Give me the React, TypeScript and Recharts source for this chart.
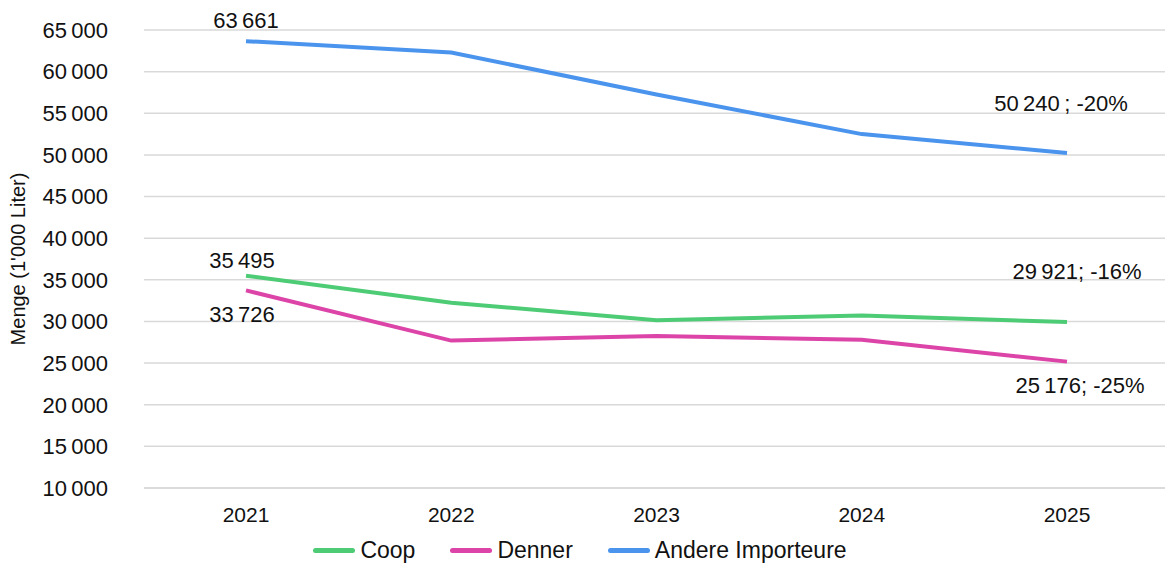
import React from "react";
import { LineChart, Line, XAxis, YAxis, CartesianGrid, LabelList } from "recharts";

const years = ["2021", "2022", "2023", "2024", "2025"];
const coop = [35495, 32250, 30150, 30700, 29921];
const denner = [33726, 27700, 28250, 27800, 25176];
const andere = [63661, 62300, 57250, 52500, 50240];

const coopLabels = ["35\u2009495", "", "", "", "29\u2009921; -16%"];
const dennerLabels = ["33\u2009726", "", "", "", "25\u2009176; -25%"];
const andereLabels = ["63\u2009661", "", "", "", "50\u2009240\u2009; -20%"];

const yTicks = [10000, 15000, 20000, 25000, 30000, 35000, 40000, 45000, 50000, 55000, 60000, 65000];

const seriesNames = { coop: "Coop", denner: "Denner", andere: "Andere Importeure" };
const colors = { coop: "#4ECB75", denner: "#DC44A8", andere: "#4A94EE" };

const data = years.map((y, i) => ({ year: y, coop: coop[i], denner: denner[i], andere: andere[i] }));

const FONT = "'Liberation Sans', Arial, sans-serif";
const fmt = (v: number) => String(v).replace(/\B(?=(\d{3})+(?!\d))/g, "\u2009");

// label offsets (style only): [dx, dy] for first and last point
const labelOffsets: Record<string, [number, number][]> = {
  coop: [[-4, -15], [10, -51]],
  denner: [[-4, 24], [13, 24]],
  andere: [[0, -21], [-6, -49]],
};

const makeLabel = (key: string, labels: string[]) => (props: any) => {
  const { x, y, index } = props;
  const text = labels[index];
  if (!text) return null;
  const off = labelOffsets[key][index === 0 ? 0 : 1];
  return (
    <text
      x={x + off[0]}
      y={y + off[1]}
      textAnchor="middle"
      dominantBaseline="central"
      fontFamily={FONT}
      fontSize={22}
      fill="#111"
    >
      {text}
    </text>
  );
};

const LegendBox = () => (
  <div
    style={{
      position: "absolute",
      top: 537,
      left: 0,
      width: 1165,
      display: "flex",
      justifyContent: "center",
      fontFamily: FONT,
      fontSize: 23,
      color: "#111",
      paddingRight: 5,
      boxSizing: "border-box",
    }}
  >
    {(["coop", "denner", "andere"] as const).map((k, i) => (
      <div key={k} style={{ display: "flex", alignItems: "center", marginRight: i < 2 ? 35 : 0 }}>
        <div style={{ width: 42, height: 5, borderRadius: 3, background: colors[k], marginRight: 5 }} />
        <span>{seriesNames[k]}</span>
      </div>
    ))}
  </div>
);

export default function App() {
  return (
    <div style={{ position: "absolute", left: 0, top: 0, width: 1165, height: 570, background: "#fff" }}>
      <LineChart
        width={1165}
        height={570}
        data={data}
        margin={{ top: 30, right: 0, bottom: 0, left: 0 }}
      >
        <CartesianGrid vertical={false} stroke="#d9d9d9" strokeWidth={1.5} />
        <XAxis
          dataKey="year"
          padding={{ left: 102, right: 98 }}
          axisLine={{ stroke: "#d9d9d9", strokeWidth: 1.5 }}
          tickLine={false}
          tick={{ fontFamily: FONT, fontSize: 21, fill: "#111" }}
          tickMargin={13}
          height={82}
        />
        <YAxis
          width={144}
          domain={[10000, 65000]}
          ticks={yTicks}
          interval={0}
          axisLine={false}
          tickLine={false}
          tickFormatter={fmt}
          tick={{ fontFamily: FONT, fontSize: 22, fill: "#111" }}
          tickMargin={30}
          label={{
            value: "Menge (1'000 Liter)",
            angle: -90,
            position: "insideLeft",
            dx: 13,
            style: { fontFamily: FONT, fontSize: 20, fill: "#111", textAnchor: "middle" },
          }}
        />
        <Line dataKey="coop" stroke={colors.coop} strokeWidth={4} dot={false} isAnimationActive={false}>
          <LabelList dataKey="coop" content={makeLabel("coop", coopLabels)} />
        </Line>
        <Line dataKey="denner" stroke={colors.denner} strokeWidth={4} dot={false} isAnimationActive={false}>
          <LabelList dataKey="denner" content={makeLabel("denner", dennerLabels)} />
        </Line>
        <Line dataKey="andere" stroke={colors.andere} strokeWidth={4} dot={false} isAnimationActive={false}>
          <LabelList dataKey="andere" content={makeLabel("andere", andereLabels)} />
        </Line>
      </LineChart>
      <LegendBox />
    </div>
  );
}
